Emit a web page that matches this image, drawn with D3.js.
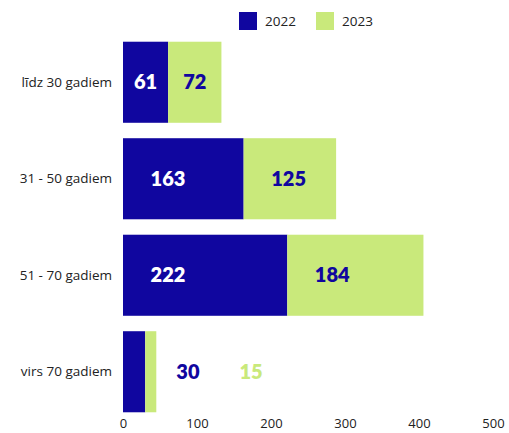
<!DOCTYPE html>
<html>
<head>
<meta charset="utf-8">
<script src="https://cdn.jsdelivr.net/npm/d3@7"></script>
<style>
  body { margin: 0; background: #fff; }
  text { font-family: 'Open Sans', 'Noto Sans', sans-serif; }
  .cat-label { font-size: 13.5px; fill: #222; }
  .tick text { font-size: 13px; fill: #222; font-family: 'Open Sans', sans-serif; }
  .legend-label { font-size: 13.5px; fill: #222; }
  .bar-label { font-size: 20px; font-weight: 800; font-family: Lato, sans-serif; }
</style>
</head>
<body>
<div class="chart-container"></div>
<script>
// data
var categories = ['līdz 30 gadiem', '31 - 50 gadiem', '51 - 70 gadiem', 'virs 70 gadiem'];
var seriesNames = ['2022', '2023'];
var values2022 = [61, 163, 222, 30];
var values2023 = [72, 125, 184, 15];
var xTicks = [0, 100, 200, 300, 400, 500];

var colors = { '2022': '#10069f', '2023': '#c9e97b' };
var labelColors = { '2022': '#ffffff', '2023': '#10069f' };

var width = 509;
var height = 433;

var svg = d3.select('.chart-container').append('svg')
  .attr('width', width)
  .attr('height', height);

var x = d3.scaleLinear()
  .domain([0, 500])
  .range([123, 493]);

var y = d3.scaleBand()
  .domain(categories)
  .range([34, 420])
  .paddingInner(0.16)
  .paddingOuter(0.08);

// stacked rows
var rows = categories.map(function (c, i) {
  return { cat: c, '2022': values2022[i], '2023': values2023[i] };
});
var stack = d3.stack().keys(seriesNames)(rows);

var layers = svg.selectAll('.layer')
  .data(stack)
  .enter()
  .append('g')
  .attr('class', 'layer')
  .attr('fill', function (d) { return colors[d.key]; });

layers.selectAll('rect')
  .data(function (d) { return d; })
  .enter()
  .append('rect')
  .attr('x', function (d) { return x(d[0]); })
  .attr('y', function (d) { return y(d.data.cat); })
  .attr('width', function (d) { return x(d[1]) - x(d[0]); })
  .attr('height', y.bandwidth());

// value labels: inside the segment when wide enough, otherwise after the bar end
rows.forEach(function (row, i) {
  var cy = y(row.cat) + y.bandwidth() / 2;
  var narrow = seriesNames.some(function (k, j) {
    return x(stack[j][i][1]) - x(stack[j][i][0]) < 40;
  });
  var cursor = x(stack[stack.length - 1][i][1]) + 20;

  seriesNames.forEach(function (key, j) {
    var seg = stack[j][i];
    var t = svg.append('text')
      .attr('class', 'bar-label')
      .attr('y', cy)
      .attr('dy', '0.35em')
      .text(row[key]);

    if (narrow) {
      t.attr('x', cursor)
        .attr('text-anchor', 'start')
        .attr('fill', colors[key]);
      cursor += t.node().getComputedTextLength() + 40;
    } else {
      var x0 = x(seg[0]);
      var half = (x(seg[1]) - x0) / 2;
      t.attr('x', x0 + Math.min(half, 45))
        .attr('text-anchor', 'middle')
        .attr('fill', labelColors[key]);
    }
  });
});

// category labels
svg.selectAll('.cat-label')
  .data(categories)
  .enter()
  .append('text')
  .attr('class', 'cat-label')
  .attr('x', 112)
  .attr('y', function (d) { return y(d) + y.bandwidth() / 2; })
  .attr('dy', '0.35em')
  .attr('text-anchor', 'end')
  .text(function (d) { return d; });

// x axis
var xAxis = svg.append('g')
  .attr('transform', 'translate(0,412)')
  .call(d3.axisBottom(x).tickValues(xTicks).tickSize(0).tickPadding(7));
xAxis.select('.domain').remove();

// legend
var legend = svg.selectAll('.legend')
  .data(seriesNames)
  .enter()
  .append('g')
  .attr('class', 'legend')
  .attr('transform', function (d, i) { return 'translate(' + (239 + i * 77) + ',12)'; });

legend.append('rect')
  .attr('width', 18)
  .attr('height', 18)
  .attr('fill', function (d) { return colors[d]; });

legend.append('text')
  .attr('class', 'legend-label')
  .attr('x', 26)
  .attr('y', 9)
  .attr('dy', '0.35em')
  .text(function (d) { return d; });
</script>
</body>
</html>
